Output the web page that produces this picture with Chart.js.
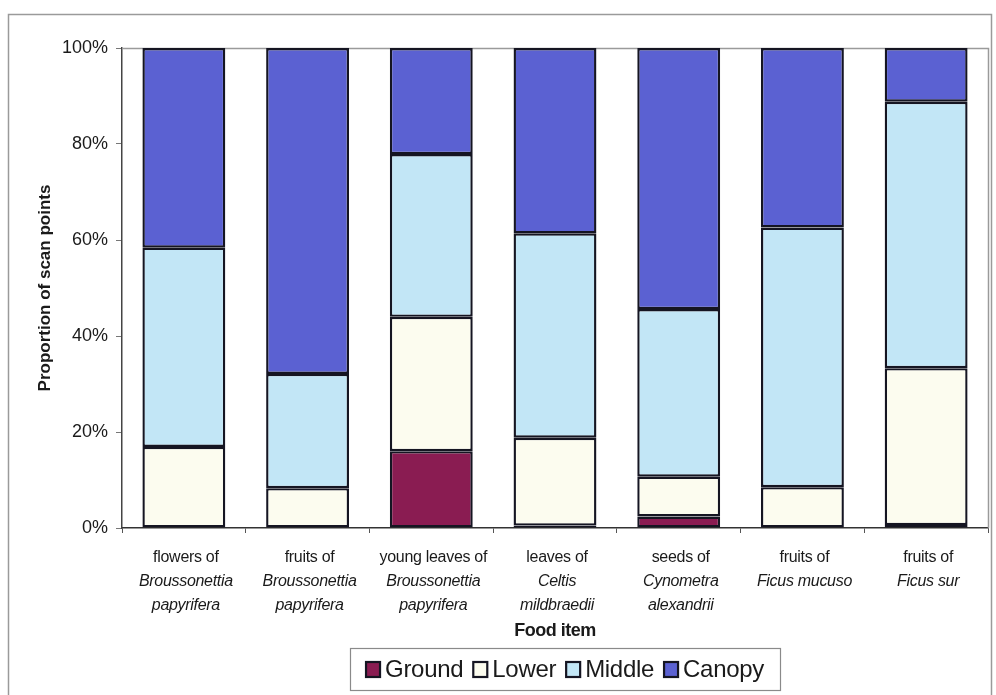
<!DOCTYPE html>
<html>
<head>
<meta charset="utf-8">
<script src="https://cdn.jsdelivr.net/npm/chart.js@4"></script>
<style>
  html, body { margin: 0; padding: 0; background: #ffffff; }
  #wrap { width: 996px; height: 695px; position: relative; }
</style>
</head>
<body>
<div id="wrap"><canvas id="chart" width="996" height="695"></canvas></div>
<script>
// Food items (first line plain, remaining lines are the species name in italics)
const foodItems = [
  ["flowers of", "Broussonettia", "papyrifera"],
  ["fruits of", "Broussonettia", "papyrifera"],
  ["young leaves of", "Broussonettia", "papyrifera"],
  ["leaves of", "Celtis", "mildbraedii"],
  ["seeds of", "Cynometra", "alexandrii"],
  ["fruits of", "Ficus mucuso"],
  ["fruits of", "Ficus sur"]
];

// Percentage of scan points at each forest level
const ground = [0, 0, 16.0, 0.5, 2.4, 0, 0.6];
const lower  = [16.9, 8.3, 28.0, 18.3, 8.3, 8.5, 32.7];
const middle = [41.5, 23.8, 33.9, 42.6, 34.9, 54.1, 55.5];
const canopy = [41.6, 67.9, 22.1, 38.6, 54.4, 37.4, 11.2];

const seriesNames = ["Ground", "Lower", "Middle", "Canopy"];
const yTicks = [0, 20, 40, 60, 80, 100];

const colors = {
  Ground: "#8a1c52",
  Lower:  "#fcfcef",
  Middle: "#c2e6f6",
  Canopy: "#5b61d2"
};
const edge = "#151522";
const textColor = "#1a1a1a";
const fontFamily = "'Liberation Sans', Arial, sans-serif";

const seriesValues = [ground, lower, middle, canopy];

const datasets = seriesNames.map((name, i) => ({
  label: name,
  data: seriesValues[i],
  backgroundColor: colors[name],
  borderColor: edge,
  borderWidth: 2.4,
  borderSkipped: false,
  inflateAmount: 0,
  barPercentage: 0.67,
  categoryPercentage: 1.0
}));

// Frame, plot border, multi-style category labels and boxed legend
const decorations = {
  id: "decorations",
  beforeDatasetsDraw(chart) {
    const { ctx, chartArea: a } = chart;
    ctx.save();
    ctx.strokeStyle = "#9a9a9a";
    ctx.lineWidth = 1.5;
    ctx.beginPath();
    ctx.moveTo(a.left, a.top + 0.5);
    ctx.lineTo(a.right + 0.5, a.top + 0.5);
    ctx.lineTo(a.right + 0.5, a.bottom);
    ctx.stroke();
    ctx.restore();
  },
  afterDraw(chart) {
    const { ctx } = chart;
    const xs = chart.scales.x;
    ctx.save();

    // outer frame
    ctx.strokeStyle = "#9a9a9a";
    ctx.lineWidth = 1.5;
    ctx.strokeRect(8.5, 14.5, 983, 700);

    // category labels
    ctx.fillStyle = textColor;
    ctx.textAlign = "center";
    ctx.textBaseline = "middle";
    ctx.letterSpacing = "-0.3px";
    foodItems.forEach((lines, i) => {
      const x = xs.getPixelForTick(i) + 2;
      lines.forEach((line, j) => {
        ctx.font = (j === 0 ? "" : "italic ") + "16px " + fontFamily;
        ctx.fillText(line, x, 558 + j * 24);
      });
    });

    // axis title
    ctx.font = "bold 18px " + fontFamily;
    ctx.letterSpacing = "-0.5px";
    ctx.fillText("Food item", (chart.chartArea.left + chart.chartArea.right) / 2, 631);

    // legend
    ctx.font = "24px " + fontFamily;
    ctx.letterSpacing = "-0.3px";
    const box = 14, gapBox = 5, gapItem = 10;
    const items = chart.data.datasets.map(d => ({ label: d.label, color: d.backgroundColor, w: ctx.measureText(d.label).width }));
    const total = items.reduce((s, it) => s + box + gapBox + it.w, 0) + gapItem * (items.length - 1);
    const cx = 565, cy = 669;
    ctx.strokeStyle = "#8a8a8a";
    ctx.lineWidth = 1.2;
    ctx.strokeRect(350.5, 648.5, 430, 42);
    let x = cx - total / 2;
    ctx.textAlign = "left";
    items.forEach(it => {
      ctx.fillStyle = it.color;
      ctx.fillRect(x, cy - box / 2, box, box + 1);
      ctx.strokeStyle = edge;
      ctx.lineWidth = 2.2;
      ctx.strokeRect(x, cy - box / 2, box, box + 1);
      ctx.fillStyle = textColor;
      ctx.fillText(it.label, x + box + gapBox, cy + 1);
      x += box + gapBox + it.w + gapItem;
    });
    ctx.restore();
  }
};

new Chart(document.getElementById("chart"), {
  type: "bar",
  data: { labels: foodItems.map(l => l.join(" ")), datasets },
  options: {
    responsive: false,
    animation: false,
    layout: { padding: { left: 0, top: 48, right: 8, bottom: 0 } },
    plugins: { legend: { display: false }, tooltip: { enabled: false } },
    scales: {
      x: {
        stacked: true,
        grid: { display: true, drawOnChartArea: false, offset: true, tickLength: 5, color: "#555" },
        border: { display: true, color: "#333", width: 1.5 },
        ticks: { callback: () => "" },
        afterFit: s => { s.height = 167; }
      },
      y: {
        stacked: true,
        min: 0,
        max: 100,
        afterBuildTicks: s => { s.ticks = yTicks.map(v => ({ value: v })); },
        grid: { display: true, drawOnChartArea: false, tickLength: 6, color: "#777" },
        border: { display: true, color: "#444", width: 1.5 },
        ticks: {
          padding: 8,
          color: textColor,
          font: { family: fontFamily, size: 18 },
          callback: v => v + "%"
        },
        title: {
          display: true,
          text: "Proportion of scan points",
          color: textColor,
          font: { family: fontFamily, size: 17, weight: "bold" },
          padding: { top: 35, bottom: 0 }
        },
        afterFit: s => { s.width = 122; }
      }
    }
  },
  plugins: [decorations]
});
</script>
</body>
</html>
